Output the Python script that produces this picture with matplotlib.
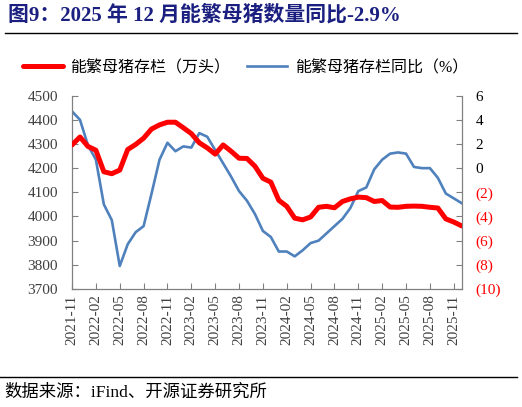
import matplotlib
matplotlib.use("Agg")
import matplotlib.pyplot as plt
from matplotlib.lines import Line2D

# ---- data ----
months = ["2021-11", "2021-12",
          "2022-01", "2022-02", "2022-03", "2022-04", "2022-05", "2022-06",
          "2022-07", "2022-08", "2022-09", "2022-10", "2022-11", "2022-12",
          "2023-01", "2023-02", "2023-03", "2023-04", "2023-05", "2023-06",
          "2023-07", "2023-08", "2023-09", "2023-10", "2023-11", "2023-12",
          "2024-01", "2024-02", "2024-03", "2024-04", "2024-05", "2024-06",
          "2024-07", "2024-08", "2024-09", "2024-10", "2024-11", "2024-12",
          "2025-01", "2025-02", "2025-03", "2025-04", "2025-05", "2025-06",
          "2025-07", "2025-08", "2025-09", "2025-10", "2025-11", "2025-12"]

sows_stock = [4296, 4329, 4290, 4274, 4185, 4177, 4192, 4277, 4298, 4324,
              4362, 4379, 4390, 4390, 4367, 4343, 4305, 4284, 4258, 4296,
              4270, 4241, 4240, 4208, 4158, 4142, 4067, 4042, 3993, 3986,
              3998, 4038, 4042, 4036, 4062, 4073, 4080, 4078, 4062, 4066,
              4039, 4038, 4042, 4043, 4042, 4038, 4035, 3990, 3977, 3961]

sows_yoy = [4.7, 4.0, 1.9, 0.7, -3.0, -4.3, -8.1, -6.3, -5.3, -4.8,
            -2.1, 0.7, 2.1, 1.4, 1.8, 1.7, 2.9, 2.6, 1.5, 0.4,
            -0.7, -1.9, -2.7, -3.8, -5.2, -5.7, -6.9, -6.9, -7.3, -6.8,
            -6.2, -6.0, -5.4, -4.8, -4.2, -3.3, -1.9, -1.6, -0.1, 0.7,
            1.2, 1.3, 1.2, 0.1, 0.0, 0.0, -0.8, -2.1, -2.5, -2.9]

left_ticks = [3700, 3800, 3900, 4000, 4100, 4200, 4300, 4400, 4500]
right_ticks = [-10, -8, -6, -4, -2, 0, 2, 4, 6]
right_tick_labels = ["(10)", "(8)", "(6)", "(4)", "(2)", "0", "2", "4", "6"]

title = "图9：2025 年 12 月能繁母猪数量同比-2.9%"
label_stock = "能繁母猪存栏（万头）"
label_yoy = "能繁母猪存栏同比（%）"
source = "数据来源：iFind、开源证券研究所"

# ---- style ----
SERIF_CJK = ["Liberation Serif", "Noto Sans CJK SC"]
plt.rcParams["font.family"] = SERIF_CJK
RED = "#FF0000"
BLUE = "#4F81BD"
GREY = "#404040"
SPINE = "#808080"

fig = plt.figure(figsize=(5.22, 4.07), dpi=100)
ax = fig.add_axes([0.138, 0.290, 0.7465, 0.475])
ax2 = ax.twinx()

x = list(range(len(months)))
l1, = ax.plot(x, sows_stock, color=RED, lw=3.6, solid_capstyle="round",
              solid_joinstyle="round", zorder=3)
l2, = ax2.plot(x, sows_yoy, color=BLUE, lw=1.9, solid_joinstyle="round",
               zorder=2)
ax.set_zorder(ax2.get_zorder() + 1)
ax.patch.set_visible(False)

ax.set_xlim(0, len(months) - 1)
ax.set_ylim(3700, 4500)
ax2.set_ylim(-10, 6)

ax.set_yticks(left_ticks)
ax.set_yticklabels([str(v) for v in left_ticks], fontsize=11, color=GREY)
ax2.set_yticks(right_ticks)
ax2.set_yticklabels(right_tick_labels, fontsize=11)
for lab, v in zip(ax2.get_yticklabels(), right_ticks):
    lab.set_color(RED if v < 0 else "black")

xt = x[::3]
ax.set_xticks(xt)
ax.set_xticklabels([months[i] for i in xt], rotation=90, fontsize=11,
                   color=GREY)

for a in (ax, ax2):
    a.tick_params(direction="in", length=4, width=0.8, color=SPINE, pad=4)
    for s in a.spines.values():
        s.set_color(SPINE)
        s.set_linewidth(0.9)
    a.spines["top"].set_visible(False)
ax.spines["right"].set_visible(False)
ax2.spines["left"].set_visible(False)
ax2.spines["bottom"].set_visible(False)
ax.tick_params(axis="y", pad=10)
ax2.tick_params(axis="y", pad=10)

# legend
fig.legend([l1, l2], [label_stock, label_yoy], loc="center",
           bbox_to_anchor=(0.47, 0.833), ncol=2, frameon=False,
           handlelength=2.5, handletextpad=0.45,
           columnspacing=1.1, prop={"family": SERIF_CJK, "size": 11.5})

# title and rules
fig.text(0.015, 0.962, title, fontsize=15, fontweight="bold",
         color="#1B2080", va="center", ha="left", family=SERIF_CJK)
fig.add_artist(Line2D([0.01, 0.99], [0.918, 0.918], color="black", lw=1.0))
fig.add_artist(Line2D([0.0, 0.99], [0.073, 0.073], color="black", lw=1.0))
fig.text(0.008, 0.036, source, fontsize=12.5, color="black", va="center",
         ha="left", family=SERIF_CJK)

fig.savefig("out.png", dpi=100)
